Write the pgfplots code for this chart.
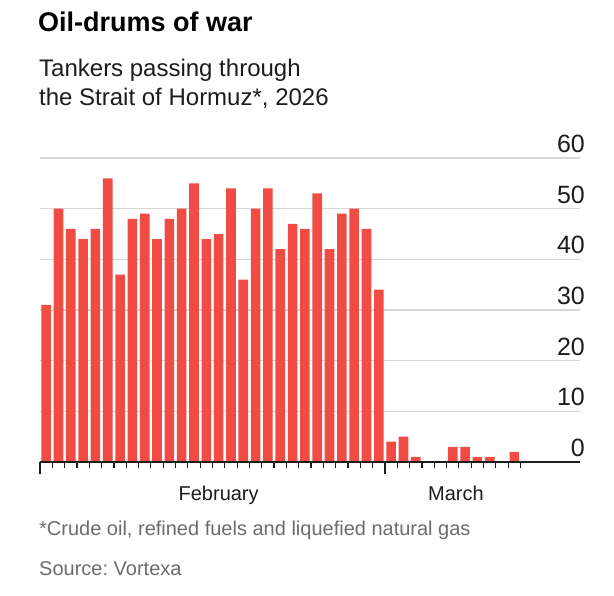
\documentclass[border=0pt]{standalone}
\usepackage{pgfplots}
\pgfplotsset{compat=1.18}
\usepackage{fontspec}
\setmainfont{Liberation Sans}
\frenchspacing

\definecolor{barred}{RGB}{240,76,68}
\definecolor{gridgray}{RGB}{214,214,214}
\definecolor{inkdark}{RGB}{28,28,28}
\definecolor{notegray}{RGB}{108,108,108}

\begin{document}
\begin{tikzpicture}
    \useasboundingbox (0pt,0pt) rectangle (614pt,-596pt);
    \begin{axis}
        [
            at={(40pt,-462pt)},
            anchor=south west,
            scale only axis,
            width=540pt,
            height=304pt,
            clip=false,
            xmin=0.5, xmax=44.33,
            ymin=0, ymax=60,
            axis x line*=bottom,
            axis y line*=right,
            x axis line style={draw=none},
            y axis line style={draw=none},
            tick align=outside,
            xtick={1.5,2.5,...,27.5,29.5,30.5,...,39.5},
            xticklabels={},
            extra x ticks={0.5,28.5},
            extra x tick labels={},
            extra x tick style={major tick length=12pt},
            x tick style={color=inkdark, line width=1.2pt},
            major tick length=6pt,
            ytick={0,10,...,60},
            ymajorgrids,
            y grid style={gridgray, line width=1.1pt},
            ytick style={draw=none},
            yticklabel style={
                anchor=south east, inner sep=0pt,
                xshift=-1pt, yshift=5pt,
                font=\fontsize{25}{28}\selectfont, text=inkdark,
                /pgf/number format/assume math mode=true
            },
        ]
        % Feb 1 to Feb 28, then Mar 1 to Mar 11
        \addplot [ybar, bar width=0.78, fill=barred, draw=none] coordinates {
            (1,31) (2,50) (3,46) (4,44) (5,46) (6,56) (7,37)
            (8,48) (9,49) (10,44) (11,48) (12,50) (13,55) (14,44)
            (15,45) (16,54) (17,36) (18,50) (19,54) (20,42) (21,47)
            (22,46) (23,53) (24,42) (25,49) (26,50) (27,46) (28,34)
            (29,4) (30,5) (31,1) (32,0) (33,0) (34,3) (35,3)
            (36,1) (37,1) (38,0) (39,2)
        };
        \draw [inkdark, line width=1.7pt] (axis cs:0.5,0) -- (axis cs:44.33,0);
        \node [anchor=base, inner sep=0pt, yshift=-38pt, text=inkdark,
               font=\fontsize{20}{24}\selectfont] at (axis cs:15,0) {February};
        \node [anchor=base, inner sep=0pt, yshift=-38pt, text=inkdark,
               font=\fontsize{20}{24}\selectfont] at (axis cs:34.26,0) {March};
    \end{axis}
    \node [anchor=base west, inner sep=0pt, font=\fontsize{27}{30}\selectfont\bfseries]
        at (38pt,-31.7pt) {Oil-drums of war};
    \node [anchor=base west, inner sep=0pt, text=inkdark, font=\fontsize{24}{28}\selectfont]
        at (39pt,-77pt) {Tankers passing through};
    \node [anchor=base west, inner sep=0pt, text=inkdark, font=\fontsize{24}{28}\selectfont]
        at (39pt,-106pt) {the Strait of Hormuz*, 2026};
    \node [anchor=base west, inner sep=0pt, text=notegray, font=\fontsize{20}{24}\selectfont]
        at (39pt,-535pt) {*Crude oil, refined fuels and liquefied natural gas};
    \node [anchor=base west, inner sep=0pt, text=notegray, font=\fontsize{20}{24}\selectfont]
        at (39pt,-575pt) {Source: Vortexa};
\end{tikzpicture}
\end{document}
